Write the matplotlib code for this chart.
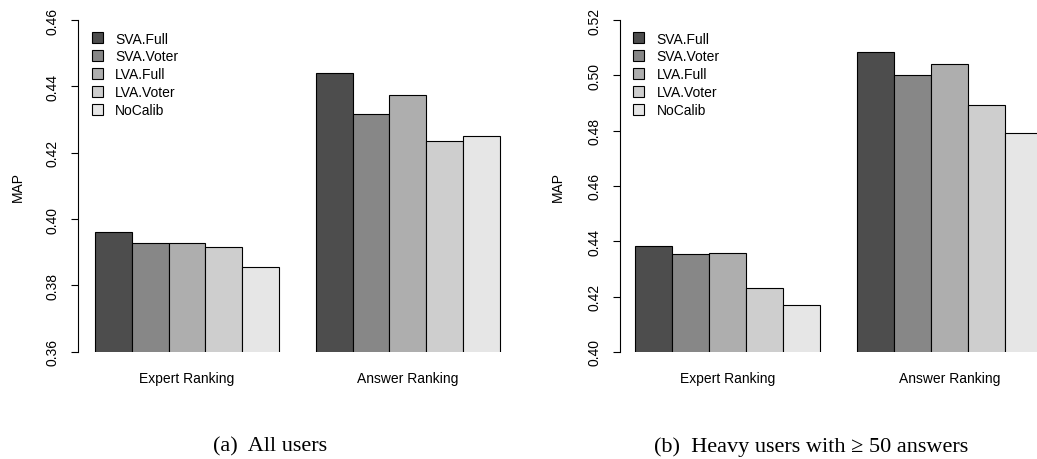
import matplotlib
matplotlib.use('Agg')
from matplotlib import pyplot as plt
from matplotlib.patches import Patch

plt.rcParams['font.family'] = ['Liberation Sans', 'DejaVu Sans']

methods = ['SVA.Full', 'SVA.Voter', 'LVA.Full', 'LVA.Voter', 'NoCalib']
colors = ['#4D4D4D', '#878787', '#AEAEAE', '#CECECE', '#E6E6E6']
tasks = ['Expert Ranking', 'Answer Ranking']

# MAP per task (rows) and method (columns)
all_users = [[0.3960, 0.3928, 0.3928, 0.3917, 0.3855],
             [0.4439, 0.4318, 0.4373, 0.4234, 0.4250]]
heavy_users = [[0.4384, 0.4354, 0.4358, 0.4233, 0.4169],
               [0.5083, 0.5003, 0.5042, 0.4892, 0.4793]]

W, H = 1037.0, 460.0
fig = plt.figure(figsize=(W / 100, H / 100), dpi=100)


def panel(vals, ylo, yhi, axis_px, first_px, unit, top_px, bot_px, leg_px):
    x0 = 1 - (first_px - axis_px) / unit
    x1 = 12.5
    ax = fig.add_axes([axis_px / W, 1 - bot_px / H,
                       (x1 - x0) * unit / W, (bot_px - top_px) / H])
    for g in range(len(tasks)):
        for i in range(len(methods)):
            ax.bar(g * 6 + i + 1, vals[g][i], width=1, align='edge',
                   bottom=0, color=colors[i], edgecolor='black', linewidth=0.8)
    ax.set_xlim(x0, x1)
    ax.set_ylim(ylo, yhi)
    ticks = [round(ylo + 0.02 * k, 2) for k in range(int(round((yhi - ylo) / 0.02)) + 1)]
    ax.set_yticks(ticks)
    ax.set_yticklabels(['%.2f' % t for t in ticks], rotation=90, va='center', fontsize=10)
    ax.tick_params(axis='y', length=5, width=0.8, pad=8)
    ax.set_xticks([3.5, 9.5])
    ax.set_xticklabels(tasks, fontsize=10)
    ax.tick_params(axis='x', length=0, pad=14)
    for s in ['top', 'right', 'bottom']:
        ax.spines[s].set_visible(False)
    ax.spines['left'].set_linewidth(0.8)
    ax.patch.set_visible(False)
    handles = [Patch(facecolor=c, edgecolor='black', linewidth=0.8) for c in colors]
    ax.legend(handles, methods, loc='upper left', frameon=False, fontsize=10,
              bbox_to_anchor=(leg_px / W, 1 - 32.5 / H), bbox_transform=fig.transFigure,
              borderpad=0, borderaxespad=0, handlelength=0.8, handleheight=0.8,
              handletextpad=0.9, labelspacing=0.28)
    return ax


panel(all_users, 0.36, 0.46, 78, 95, 36.8, 21, 352.7, 91.7)
panel(heavy_users, 0.40, 0.52, 620, 635, 37.0, 21, 353, 633)

fig.text(18 / W, 1 - 187 / H, 'MAP', rotation=90, ha='center', va='center', fontsize=10)
fig.text(558 / W, 1 - 187 / H, 'MAP', rotation=90, ha='center', va='center', fontsize=10)

serif = ['Liberation Serif', 'DejaVu Serif']
fig.text(270 / W, 1 - 447 / H, '(a)  All users', ha='center', va='center',
         fontsize=16, family=serif)
fig.text(811 / W, 1 - 447 / H, '(b)  Heavy users with \u2265 50 answers', ha='center',
         va='center', fontsize=16, family=serif)

fig.savefig('out.png', dpi=100)
